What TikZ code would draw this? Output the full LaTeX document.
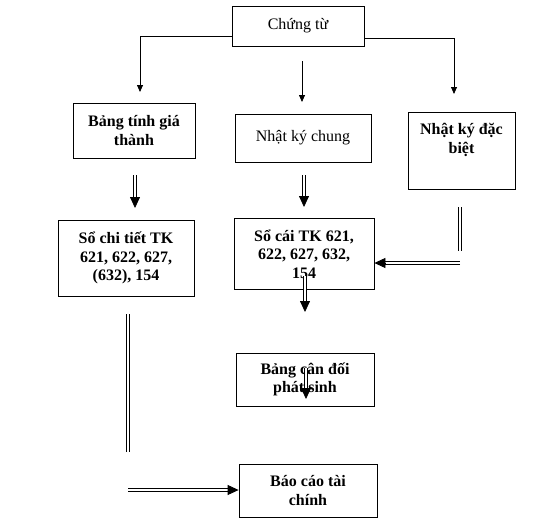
\documentclass[tikz,border=0pt]{standalone}
\usepackage{fontspec}
\setmainfont{Liberation Serif}
\usetikzlibrary{arrows.meta,calc}
\begin{document}
\begin{tikzpicture}[x=1pt,y=-1pt,
  box/.style={draw, line width=0.8pt, rectangle, align=center, inner sep=0pt, font=\fontsize{16}{18.5}\selectfont},
  boldbox/.style={box, font=\fontsize{16}{18.5}\selectfont\bfseries},
  plaintext/.style={align=center, inner sep=0pt, font=\fontsize{16}{18.5}\selectfont\bfseries},
  arr/.style={line width=0.8pt, -{Triangle[length=7pt,width=6pt]}},
  dbl/.style={draw, line width=1.1pt, double distance=1.6pt},
  dtip/.style={line width=0.8pt, -{Triangle[length=11pt,width=10pt]}}
]
\useasboundingbox (0,0) rectangle (544,525);

% boxes
\node[box, minimum width=132pt, minimum height=40pt] (chungtu) at (298,26) {Chứng từ};
\node[boldbox, minimum width=122pt, minimum height=55pt] (bangtinh) at (134,130.5) {Bảng tính giá\\thành};
\node[box, minimum width=136pt, minimum height=48pt] (nkc) at (303,138) {Nhật ký chung};
\node[box, minimum width=107pt, minimum height=77pt] (nkdb) at (461.5,150.5) {};
\node[plaintext] (nkdbtext) at (461.5,140) {Nhật ký đặc\\biệt};
\node[boldbox, minimum width=136pt, minimum height=76pt] (sochitiet) at (126,258) {Sổ chi tiết TK\\621, 622, 627,\\(632), 154};
\node[boldbox, minimum width=140pt, minimum height=71pt] (socai) at (304,254) {Sổ cái TK 621,\\622, 627, 632,\\154};
\node[boldbox, minimum width=138pt, minimum height=53pt] (bcd) at (305,379.5) {Bảng cân đối\\phát sinh};
\node[boldbox, minimum width=138pt, minimum height=53pt] (bctc) at (308,490.5) {Báo cáo tài\\chính};

% single arrows from Chứng từ
\coordinate (a1) at (140,92);
\coordinate (a2s) at (302,61);
\coordinate (a2) at (302,102);
\coordinate (a3) at (454,94);
\draw[arr] ([yshift=-10pt]chungtu.west) -| (a1);
\draw[arr] (a2s) -- (a2);
\draw[arr] ([yshift=-12pt]chungtu.east) -| (a3);

% double arrows
\newcommand\dblarrow[2]{\draw[dbl, shorten >=9pt] (#1) -- (#2); \draw[dtip] ($(#2)!11pt!(#1)$) -- (#2);}
\coordinate (d1s) at (135,175); \coordinate (d1e) at (135,208);
\dblarrow{d1s}{d1e}
\coordinate (d2s) at (304,175); \coordinate (d2e) at (304,207);
\dblarrow{d2s}{d2e}
\coordinate (v1s) at (460,207); \coordinate (v1e) at (460,251);
\draw[dbl] (v1s) -- (v1e);
\coordinate (h1) at (460,263); \coordinate (h1e) at (h1 -| socai.east);
\dblarrow{h1}{h1e}
\coordinate (d5s) at (305,276); \coordinate (d5e) at (305,312);
\dblarrow{d5s}{d5e}
\coordinate (d6s) at (306,368); \coordinate (d6e) at (306,399);
\dblarrow{d6s}{d6e}
\coordinate (v2s) at (128,314); \coordinate (v2e) at (128,452);
\draw[dbl] (v2s) -- (v2e);
\coordinate (h2) at (128,490); \coordinate (h2e) at (h2 -| bctc.west);
\dblarrow{h2}{h2e}
\end{tikzpicture}
\end{document}
